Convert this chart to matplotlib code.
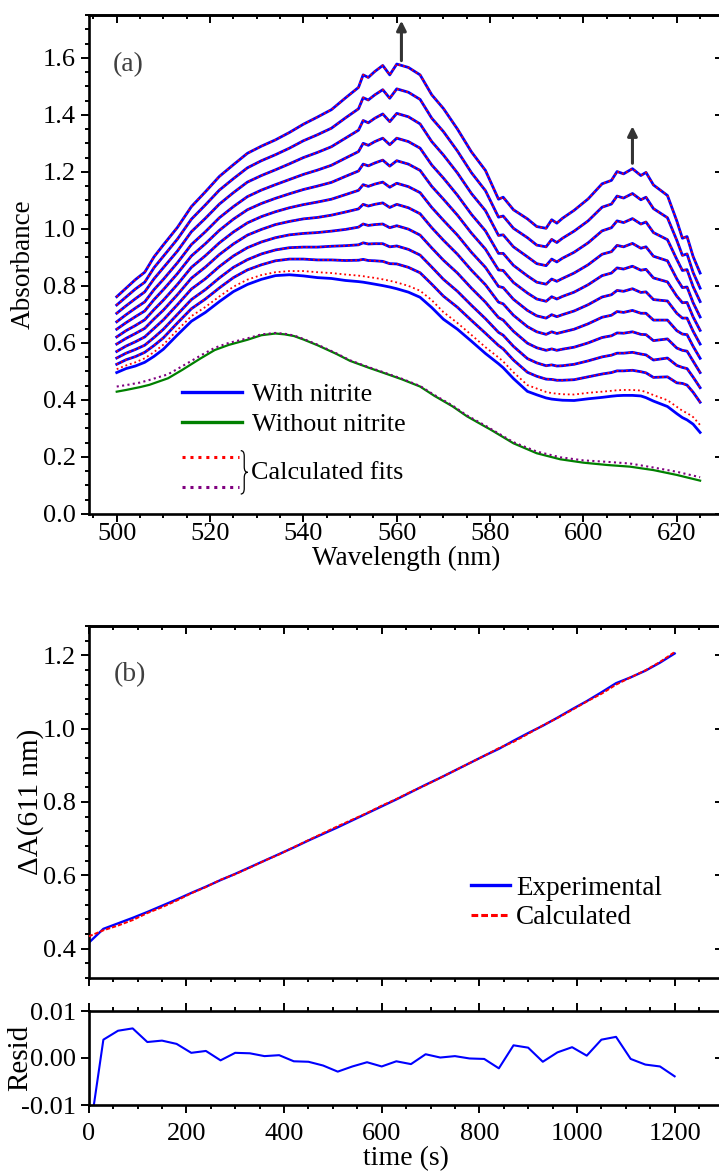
import matplotlib
matplotlib.use("Agg")
import matplotlib.pyplot as plt
from matplotlib.lines import Line2D
from matplotlib.path import Path
from matplotlib.patches import PathPatch
from matplotlib.ticker import MultipleLocator, FixedLocator, NullLocator, FormatStrFormatter

plt.rcParams["font.family"] = ["Liberation Serif", "DejaVu Serif"]
plt.rcParams["axes.unicode_minus"] = False

# ---- panel (a): spectra ----
wl = [500, 502, 504, 506, 508, 510, 513, 516, 519, 522, 525, 528, 531, 534, 537, 540,
      543, 546, 549, 551.8, 552.8, 553.9, 555.3, 557, 558.5, 560, 562.5, 565, 567.5, 570,
      573, 576, 579, 581.8, 582.8, 585, 588, 590, 592, 593.2, 594.3, 595.5, 598, 601, 604,
      606, 607.2, 608.6, 610.5, 612.3, 613.4, 615, 618, 620, 621.2, 622.2, 623.5, 625]

# with nitrite, bottom (first scan) to top (last scan)
spec_0 = [0.496, 0.510, 0.519, 0.532, 0.553, 0.578, 0.628, 0.676, 0.707, 0.745, 0.780, 0.805,
          0.823, 0.836, 0.839, 0.835, 0.829, 0.826, 0.819, 0.815, 0.813, 0.810, 0.806, 0.801,
          0.796, 0.790, 0.778, 0.760, 0.724, 0.683, 0.648, 0.606, 0.563, 0.527, 0.513, 0.475,
          0.430, 0.418, 0.407, 0.403, 0.401, 0.399, 0.398, 0.404, 0.409, 0.413, 0.415, 0.416,
          0.416, 0.414, 0.408, 0.396, 0.377, 0.352, 0.338, 0.330, 0.315, 0.286]
spec_1 = [0.525, 0.541, 0.552, 0.567, 0.591, 0.618, 0.670, 0.720, 0.754, 0.793, 0.829, 0.856,
          0.874, 0.888, 0.894, 0.894, 0.891, 0.891, 0.889, 0.890, 0.893, 0.889, 0.888, 0.886,
          0.878, 0.877, 0.865, 0.846, 0.806, 0.764, 0.725, 0.679, 0.634, 0.591, 0.579, 0.540,
          0.497, 0.483, 0.473, 0.472, 0.469, 0.469, 0.471, 0.481, 0.491, 0.496, 0.502, 0.502,
          0.504, 0.499, 0.495, 0.479, 0.481, 0.460, 0.458, 0.452, 0.427, 0.392]
spec_2 = [0.547, 0.564, 0.577, 0.592, 0.619, 0.648, 0.700, 0.752, 0.787, 0.828, 0.865, 0.892,
          0.912, 0.926, 0.934, 0.936, 0.936, 0.939, 0.941, 0.944, 0.951, 0.947, 0.948, 0.948,
          0.937, 0.940, 0.928, 0.908, 0.866, 0.823, 0.781, 0.732, 0.685, 0.637, 0.627, 0.588,
          0.545, 0.530, 0.520, 0.523, 0.519, 0.520, 0.525, 0.537, 0.551, 0.557, 0.564, 0.564,
          0.567, 0.561, 0.558, 0.540, 0.547, 0.521, 0.514, 0.510, 0.480, 0.443]
spec_3 = [0.570, 0.589, 0.604, 0.621, 0.651, 0.681, 0.734, 0.789, 0.825, 0.868, 0.905, 0.934,
          0.954, 0.969, 0.979, 0.984, 0.987, 0.992, 0.998, 1.006, 1.017, 1.012, 1.015, 1.017,
          1.004, 1.011, 0.999, 0.978, 0.933, 0.890, 0.845, 0.792, 0.743, 0.689, 0.680, 0.641,
          0.599, 0.583, 0.574, 0.579, 0.574, 0.578, 0.585, 0.600, 0.619, 0.625, 0.635, 0.634,
          0.639, 0.630, 0.629, 0.608, 0.614, 0.582, 0.574, 0.571, 0.536, 0.496]
spec_4 = [0.596, 0.616, 0.633, 0.651, 0.684, 0.715, 0.769, 0.827, 0.866, 0.910, 0.947, 0.978,
          0.998, 1.015, 1.026, 1.035, 1.040, 1.048, 1.059, 1.070, 1.086, 1.080, 1.086, 1.091,
          1.075, 1.086, 1.074, 1.053, 1.004, 0.960, 0.911, 0.855, 0.804, 0.743, 0.737, 0.697,
          0.657, 0.639, 0.630, 0.639, 0.633, 0.638, 0.648, 0.667, 0.690, 0.697, 0.710, 0.707,
          0.714, 0.704, 0.704, 0.680, 0.680, 0.643, 0.631, 0.629, 0.588, 0.546]
spec_5 = [0.621, 0.643, 0.661, 0.681, 0.717, 0.750, 0.805, 0.865, 0.906, 0.951, 0.989, 1.021,
          1.043, 1.060, 1.074, 1.085, 1.094, 1.104, 1.120, 1.135, 1.155, 1.149, 1.157, 1.164,
          1.146, 1.160, 1.148, 1.127, 1.075, 1.030, 0.978, 0.918, 0.865, 0.798, 0.794, 0.753,
          0.714, 0.695, 0.687, 0.699, 0.692, 0.699, 0.712, 0.734, 0.761, 0.769, 0.784, 0.781,
          0.790, 0.777, 0.779, 0.752, 0.747, 0.704, 0.687, 0.687, 0.641, 0.596]
spec_6 = [0.648, 0.671, 0.692, 0.712, 0.752, 0.787, 0.843, 0.905, 0.948, 0.995, 1.034, 1.067,
          1.089, 1.107, 1.123, 1.138, 1.150, 1.163, 1.184, 1.203, 1.227, 1.221, 1.231, 1.241,
          1.220, 1.239, 1.227, 1.205, 1.149, 1.104, 1.048, 0.985, 0.929, 0.856, 0.854, 0.812,
          0.775, 0.754, 0.746, 0.762, 0.754, 0.763, 0.778, 0.804, 0.836, 0.845, 0.863, 0.859,
          0.869, 0.855, 0.858, 0.828, 0.814, 0.764, 0.741, 0.742, 0.691, 0.644]
spec_7 = [0.674, 0.699, 0.722, 0.744, 0.787, 0.823, 0.881, 0.945, 0.990, 1.039, 1.078, 1.113,
          1.136, 1.155, 1.173, 1.191, 1.206, 1.223, 1.248, 1.271, 1.300, 1.293, 1.306, 1.318,
          1.295, 1.318, 1.306, 1.283, 1.224, 1.178, 1.118, 1.051, 0.993, 0.914, 0.914, 0.872,
          0.835, 0.813, 0.806, 0.824, 0.816, 0.826, 0.845, 0.874, 0.911, 0.920, 0.942, 0.937,
          0.949, 0.932, 0.937, 0.904, 0.888, 0.825, 0.794, 0.796, 0.741, 0.691]
spec_8 = [0.704, 0.730, 0.755, 0.779, 0.825, 0.864, 0.922, 0.990, 1.037, 1.087, 1.127, 1.164,
          1.187, 1.207, 1.228, 1.250, 1.268, 1.288, 1.318, 1.346, 1.380, 1.372, 1.388, 1.403,
          1.376, 1.405, 1.393, 1.368, 1.306, 1.259, 1.196, 1.124, 1.064, 0.977, 0.979, 0.937,
          0.902, 0.878, 0.871, 0.894, 0.884, 0.897, 0.918, 0.951, 0.993, 1.004, 1.028, 1.022,
          1.036, 1.017, 1.024, 0.987, 0.962, 0.893, 0.854, 0.857, 0.797, 0.745]
spec_9 = [0.733, 0.761, 0.789, 0.813, 0.864, 0.904, 0.964, 1.034, 1.084, 1.136, 1.176, 1.214,
          1.239, 1.260, 1.283, 1.309, 1.330, 1.353, 1.389, 1.421, 1.460, 1.452, 1.470, 1.488,
          1.458, 1.491, 1.479, 1.454, 1.388, 1.341, 1.273, 1.197, 1.134, 1.041, 1.045, 1.002,
          0.969, 0.943, 0.937, 0.963, 0.952, 0.967, 0.992, 1.028, 1.076, 1.087, 1.115, 1.108,
          1.124, 1.102, 1.111, 1.071, 1.039, 0.960, 0.907, 0.912, 0.847, 0.792]
spec_10 = [0.762, 0.792, 0.822, 0.848, 0.902, 0.944, 1.005, 1.078, 1.130, 1.184, 1.225, 1.265,
           1.290, 1.312, 1.338, 1.367, 1.392, 1.418, 1.459, 1.496, 1.540, 1.531, 1.552, 1.573,
           1.540, 1.578, 1.566, 1.540, 1.470, 1.422, 1.350, 1.270, 1.205, 1.104, 1.111, 1.067,
           1.035, 1.008, 1.002, 1.032, 1.020, 1.037, 1.065, 1.105, 1.158, 1.170, 1.201, 1.193,
           1.211, 1.187, 1.198, 1.154, 1.117, 1.028, 0.967, 0.973, 0.903, 0.845]

# calculated fit of the first scan (the later fits lie on top of their data)
fit_0 = [0.508, 0.521, 0.532, 0.546, 0.568, 0.594, 0.645, 0.694, 0.726, 0.763, 0.797, 0.822,
         0.838, 0.848, 0.852, 0.852, 0.848, 0.845, 0.840, 0.836, 0.834, 0.831, 0.828, 0.823,
         0.818, 0.812, 0.800, 0.783, 0.750, 0.708, 0.670, 0.628, 0.585, 0.549, 0.535, 0.497,
         0.452, 0.440, 0.428, 0.424, 0.422, 0.420, 0.419, 0.425, 0.429, 0.432, 0.434, 0.435,
         0.435, 0.433, 0.428, 0.417, 0.399, 0.376, 0.362, 0.354, 0.340, 0.312]

wl_free = [500, 502, 505, 507, 511, 514, 518, 521, 524, 528, 531, 534, 536, 538, 540, 543,
           547, 550, 554, 557, 561, 565, 568, 572, 575, 579, 580, 585, 590, 595, 600, 605,
           610, 615, 620, 625]
without_nitrite = [0.429, 0.435, 0.445, 0.453, 0.476, 0.505, 0.546, 0.575, 0.593, 0.611, 0.627,
                   0.633, 0.630, 0.624, 0.612, 0.592, 0.562, 0.537, 0.513, 0.496, 0.473, 0.447,
                   0.415, 0.377, 0.343, 0.306, 0.297, 0.248, 0.213, 0.192, 0.180, 0.172, 0.166,
                   0.154, 0.137, 0.117]
fit_without = [0.447, 0.452, 0.461, 0.470, 0.490, 0.518, 0.556, 0.583, 0.600, 0.616, 0.630,
               0.635, 0.632, 0.626, 0.614, 0.594, 0.564, 0.539, 0.515, 0.498, 0.475, 0.449,
               0.418, 0.380, 0.346, 0.310, 0.300, 0.252, 0.219, 0.199, 0.188, 0.183, 0.177,
               0.163, 0.148, 0.129]

# ---- panel (b): kinetics at 611 nm ----
time_s = list(range(0, 1201, 30))
dA_exp = [0.416, 0.454, 0.469, 0.484, 0.500, 0.517, 0.534, 0.552, 0.569, 0.587, 0.604, 0.622,
          0.640, 0.658, 0.676, 0.695, 0.713, 0.731, 0.750, 0.769, 0.788, 0.807, 0.827, 0.847,
          0.866, 0.886, 0.906, 0.926, 0.945, 0.967, 0.988, 1.008, 1.030, 1.053, 1.075, 1.099,
          1.124, 1.140, 1.158, 1.180, 1.205]
dA_calc = [0.4335, 0.450, 0.463, 0.478, 0.497, 0.513, 0.531, 0.551, 0.568, 0.588, 0.603, 0.621,
           0.640, 0.657, 0.677, 0.696, 0.715, 0.734, 0.752, 0.770, 0.790, 0.808, 0.828, 0.846,
           0.866, 0.886, 0.906, 0.926, 0.947, 0.964, 0.986, 1.009, 1.029, 1.051, 1.074, 1.095,
           1.120, 1.140, 1.159, 1.182, 1.209]
resid = [-0.0175, 0.0039, 0.0058, 0.0063, 0.0034, 0.0037, 0.0030, 0.0011, 0.0015, -0.0005,
         0.0011, 0.0010, 0.0004, 0.0006, -0.0007, -0.0008, -0.0016, -0.0029, -0.0018, -0.0009,
         -0.0018, -0.0007, -0.0013, 0.0008, 0.0001, 0.0004, -0.0001, -0.0002, -0.0022, 0.0027,
         0.0022, -0.0008, 0.0012, 0.0023, 0.0005, 0.0039, 0.0045, -0.0002, -0.0014, -0.0018,
         -0.0039]

with_nitrite = [spec_0, spec_1, spec_2, spec_3, spec_4, spec_5, spec_6, spec_7, spec_8, spec_9, spec_10]

BLUE, RED, GREEN, PURPLE = "#0000ff", "#ff0000", "#008000", "#800080"
DOT = (0, (1.0, 1.6))
DASH = (0, (2.2, 1.0))
SPINE_W, TICK_W, MAJ, MIN = 1.9, 1.4, 5.8, 3.0

fig = plt.figure(figsize=(7.19, 11.74), dpi=100)
L, W = 0.1234, 0.8828
ax_a = fig.add_axes([L, 1 - 514 / 1174, W, 499 / 1174])
ax_b = fig.add_axes([L, 1 - 978 / 1174, W, 352 / 1174])
ax_r = fig.add_axes([L, 1 - 1105 / 1174, W, 94 / 1174])


def frame(ax, xmaj, xmin, ymaj, ymin, right_loc, top_out=False, labelsize=19, pad=3):
    for s in ax.spines.values():
        s.set_linewidth(SPINE_W)
    ax.xaxis.set_major_locator(MultipleLocator(xmaj))
    ax.xaxis.set_minor_locator(MultipleLocator(xmin))
    ax.yaxis.set_major_locator(ymaj)
    ax.yaxis.set_minor_locator(ymin)
    ax.tick_params(which="both", direction="out", width=TICK_W, labelsize=labelsize,
                   top=top_out, right=False)
    ax.tick_params(axis="x", pad=pad)
    ax.tick_params(which="major", length=MAJ)
    ax.tick_params(which="minor", length=MIN)
    if not top_out:
        top = ax.secondary_xaxis("top")
        top.xaxis.set_major_locator(MultipleLocator(xmaj))
        top.xaxis.set_minor_locator(MultipleLocator(xmin))
        top.tick_params(which="both", direction="in", width=TICK_W, labeltop=False)
        top.tick_params(which="major", length=MAJ)
        top.tick_params(which="minor", length=MIN)
        top.spines["top"].set_linewidth(SPINE_W)
    right = ax.secondary_yaxis("right")
    right.yaxis.set_major_locator(right_loc)
    right.yaxis.set_minor_locator(NullLocator())
    right.tick_params(direction="in", width=TICK_W, length=MAJ, labelright=False)
    right.spines["right"].set_linewidth(SPINE_W)


# panel (a)
for i, spec in enumerate(with_nitrite):
    ax_a.plot(wl, spec, color=BLUE, lw=2.0, zorder=2)
    fit = fit_0 if i == 0 else spec
    ax_a.plot(wl, fit, color=RED, lw=1.3, ls=DOT, zorder=3)
ax_a.plot(wl_free, without_nitrite, color=GREEN, lw=1.6, zorder=2)
ax_a.plot(wl_free, fit_without, color=PURPLE, lw=1.5, ls=DOT, zorder=3)

ax_a.set_xlim(494, 630)
ax_a.set_ylim(0, 1.75)
frame(ax_a, 20, 5, MultipleLocator(0.2), MultipleLocator(0.05), MultipleLocator(0.2), pad=0.5)
ax_a.yaxis.set_major_formatter(FormatStrFormatter("%.1f"))
ax_a.set_xlabel("Wavelength (nm)", fontsize=19.5, labelpad=0.5)
ax_a.set_ylabel("Absorbance", fontsize=19.5)
ax_a.yaxis.set_label_coords(-0.083, 0.5)
ax_a.text(0.038, 0.90, "(a)", transform=ax_a.transAxes, fontsize=20, color="#404040",
          ha="left", va="center")

for x0, y0, y1 in [(561, 1.59, 1.73), (610.5, 1.23, 1.36)]:
    ax_a.annotate("", xy=(x0, y1), xytext=(x0, y0),
                  arrowprops=dict(arrowstyle="-|>", color="#333333", lw=2.2,
                                  mutation_scale=14, shrinkA=0, shrinkB=0))

leg1 = ax_a.legend([Line2D([], [], color=BLUE, lw=2.4), Line2D([], [], color=GREEN, lw=2.4)],
                   ["With nitrite", "Without nitrite"], loc="upper left",
                   bbox_to_anchor=(0.147, 0.263), frameon=False, fontsize=18.8,
                   handlelength=2.28, handletextpad=0.4, labelspacing=0.25,
                   borderpad=0, borderaxespad=0)
ax_a.add_artist(leg1)
ax_a.legend([Line2D([], [], color=RED, lw=2.2, ls=DOT), Line2D([], [], color=PURPLE, lw=2.2, ls=DOT)],
            [" ", " "], loc="upper left", bbox_to_anchor=(0.147, 0.132), frameon=False,
            fontsize=18.8, handlelength=2.2, handletextpad=0.1, labelspacing=0.25,
            borderpad=0, borderaxespad=0)

# curly brace joining the two fit samples (axes fraction)
bx0, bx1, byt, byb, bd = 0.2395, 0.2505, 0.127, 0.040, 0.011
bxm, bym = (bx0 + bx1) / 2, (byt + byb) / 2
brace = Path([(bx0, byt), (bxm, byt), (bxm, byt - bd), (bxm, bym + bd), (bxm, bym), (bx1, bym),
              (bxm, bym), (bxm, bym - bd), (bxm, byb + bd), (bxm, byb), (bx0, byb)],
             [Path.MOVETO, Path.CURVE3, Path.CURVE3, Path.LINETO, Path.CURVE3, Path.CURVE3,
              Path.CURVE3, Path.CURVE3, Path.LINETO, Path.CURVE3, Path.CURVE3])
ax_a.add_patch(PathPatch(brace, transform=ax_a.transAxes, fill=False, lw=0.9, color="black"))
ax_a.text(0.255, 0.083, "Calculated fits", transform=ax_a.transAxes, fontsize=18.8,
          ha="left", va="center")

# panel (b)
ax_b.plot(time_s, dA_exp, color=BLUE, lw=1.7, zorder=2)
ax_b.plot(time_s, dA_calc, color=RED, lw=1.4, ls=DASH, zorder=3)
ax_b.set_xlim(0, 1300)
ax_b.set_ylim(0.32, 1.28)
frame(ax_b, 200, 50, MultipleLocator(0.2), MultipleLocator(0.04), MultipleLocator(0.2))
ax_b.tick_params(axis="x", labelbottom=False)
ax_b.yaxis.set_major_formatter(FormatStrFormatter("%.1f"))
ax_b.set_ylabel("\u0394A(611 nm)", fontsize=21)
ax_b.yaxis.set_label_coords(-0.071, 0.5)
ax_b.text(0.039, 0.861, "(b)", transform=ax_b.transAxes, fontsize=20, color="#404040",
          ha="left", va="center")
ax_b.legend([Line2D([], [], color=BLUE, lw=2.4), Line2D([], [], color=RED, lw=2.2, ls=DASH)],
            ["Experimental", "Calculated"], loc="upper left", bbox_to_anchor=(0.602, 0.290),
            frameon=False, fontsize=19.5, handlelength=1.45, handletextpad=0.22,
            labelspacing=0.15, borderpad=0, borderaxespad=0)

# residuals
ax_r.plot(time_s, resid, color=BLUE, lw=1.5)
ax_r.set_xlim(0, 1300)
ax_r.set_ylim(-0.01, 0.01)
frame(ax_r, 200, 50, FixedLocator([-0.01, 0.0, 0.01]), NullLocator(), FixedLocator([0.0]),
      top_out=True, pad=7)
ax_r.yaxis.set_major_formatter(FormatStrFormatter("%.2f"))
ax_r.set_ylabel("Resid", fontsize=21)
ax_r.yaxis.set_label_coords(-0.088, 0.5)
ax_r.set_xlabel("time (s)", fontsize=20, labelpad=1)

fig.savefig("out.png", dpi=100)
